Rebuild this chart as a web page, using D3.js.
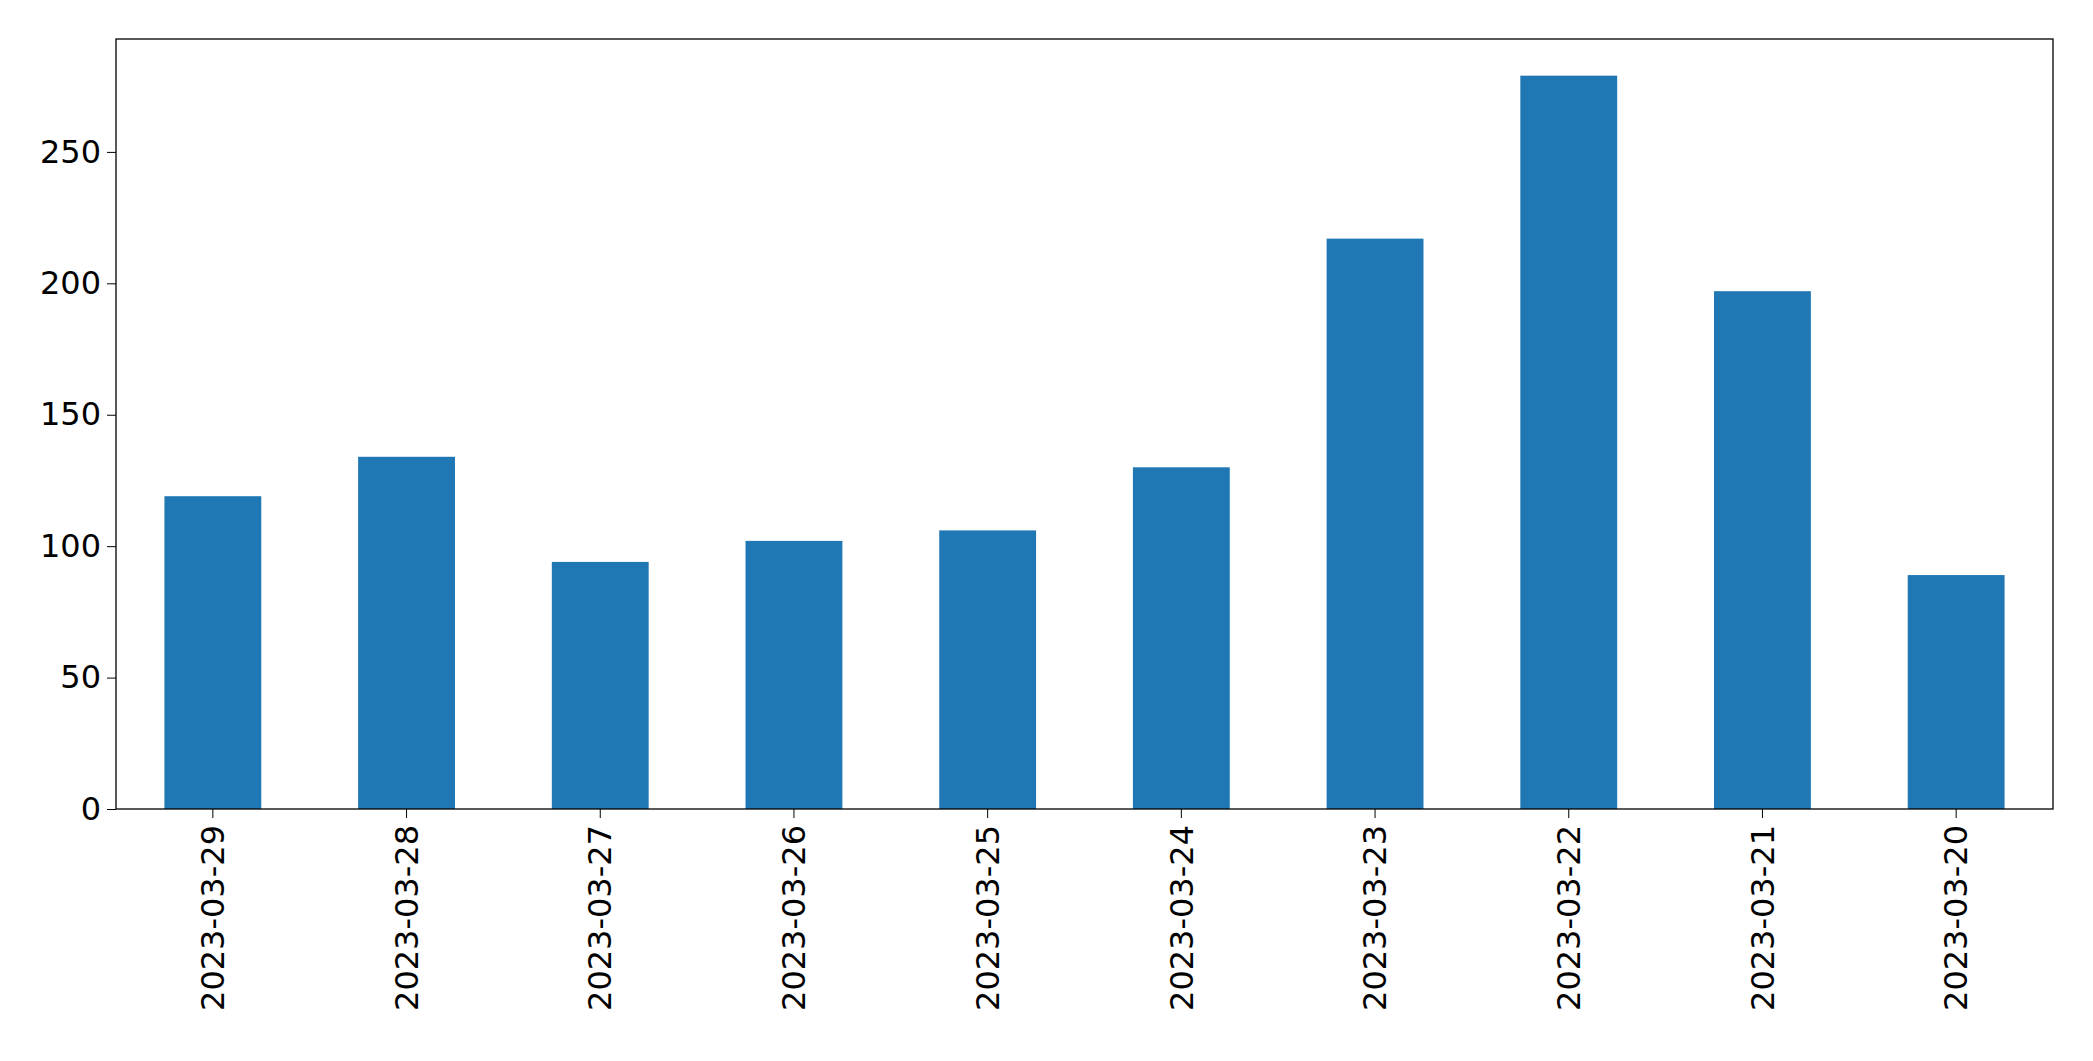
<!DOCTYPE html>
<html><head><meta charset="utf-8">
<script src="https://cdn.jsdelivr.net/npm/d3@7"></script>
<style>body{margin:0;background:#fff}text{font-family:"DejaVu Sans",sans-serif}</style>
</head><body><svg id="chart" width="2093" height="1061"></svg>
<script>
const dates = ["2023-03-29","2023-03-28","2023-03-27","2023-03-26","2023-03-25","2023-03-24","2023-03-23","2023-03-22","2023-03-21","2023-03-20"];
const counts = [119, 134, 94, 102, 106, 130, 217, 279, 197, 89];
const yTicks = [0, 50, 100, 150, 200, 250];

const m = {left: 116, right: 40, top: 39, bottom: 252};
const W = 2093 - m.left - m.right, H = 1061 - m.top - m.bottom;
const svg = d3.select("#chart");
const g = svg.append("g").attr("transform", `translate(${m.left},${m.top})`);

const x = d3.scaleBand().domain(dates).range([0, W]).paddingInner(0.5).paddingOuter(0.25);
const y = d3.scaleLinear().domain([0, d3.max(counts) * 1.05]).range([H, 0]);

g.selectAll("rect").data(dates).enter().append("rect")
  .attr("x", d => x(d)).attr("width", x.bandwidth())
  .attr("y", (d, i) => y(counts[i])).attr("height", (d, i) => H - y(counts[i]))
  .attr("fill", "#1f77b4");

const ya = g.append("g").call(d3.axisLeft(y).tickValues(yTicks).tickSize(9).tickPadding(6));
ya.selectAll("text").attr("font-size", 32).attr("fill", "#000");
ya.select(".domain").remove();

const xa = g.append("g").attr("transform", `translate(0,${H})`)
  .call(d3.axisBottom(x).tickSize(9).tickPadding(6));
xa.select(".domain").remove();
xa.selectAll("text").attr("font-size", 32).attr("fill", "#000")
  .attr("transform", "rotate(-90)").attr("text-anchor", "end")
  .attr("x", -16).attr("y", 0).attr("dy", "0.35em");

g.append("rect").attr("width", W).attr("height", H)
  .attr("fill", "none").attr("stroke", "#000").attr("stroke-width", 1.3);
</script></body></html>
